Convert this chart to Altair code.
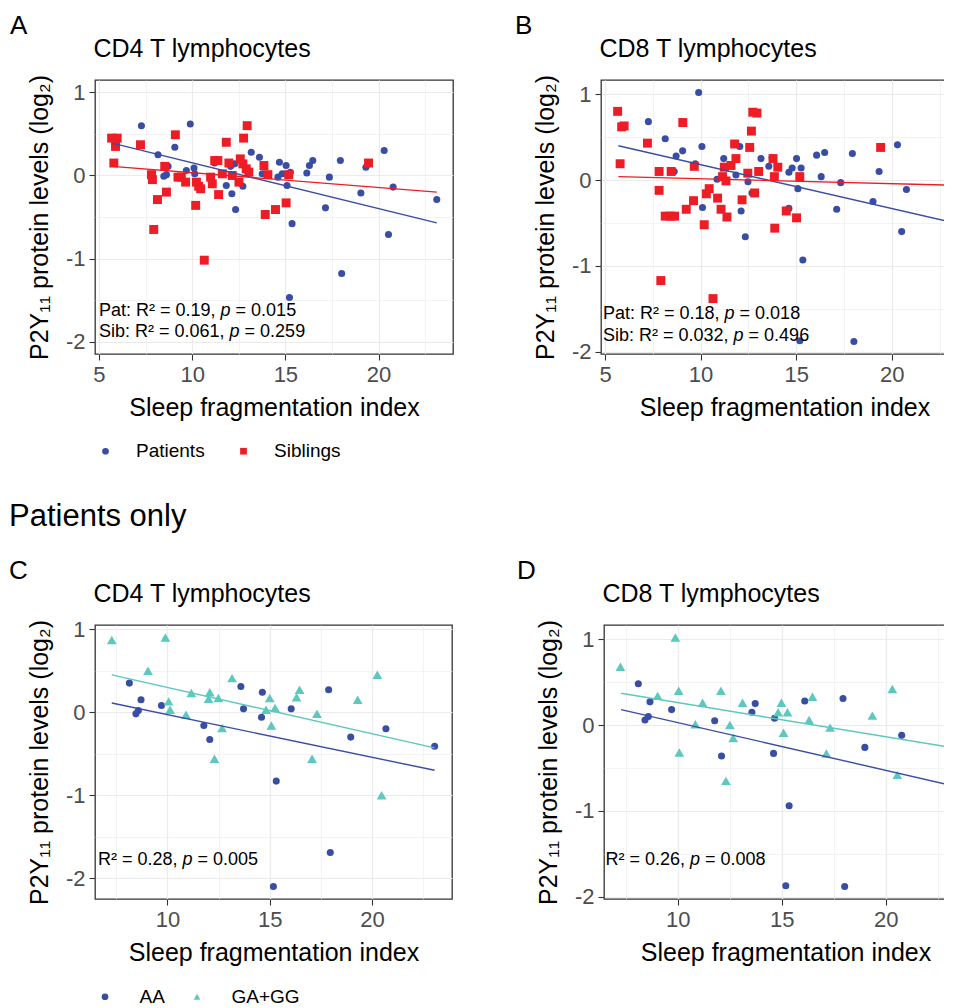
import altair as alt
import pandas as pd

FONT = "Liberation Sans"
BLUE = "#3A4DA5"
RED = "#EE1C24"
TEAL = "#5CC8BE"

# ---------------- Panel A: CD4, patients vs siblings ----------------
a_pat_x = [7.28, 9.90, 8.17, 9.07, 8.71, 8.48, 8.62, 9.69, 10.10, 10.14,
           11.21, 11.83, 12.13, 12.33, 12.06, 12.28, 12.72, 13.17, 13.61, 13.76,
           14.68, 14.60, 14.83, 15.04, 15.27, 15.09, 15.36, 15.22, 16.15, 16.29,
           16.47, 17.36, 17.15, 17.95, 18.02, 19.05, 19.32, 20.30, 20.53, 20.78, 23.12]
a_pat_y = [0.60, 0.62, 0.25, 0.34, 0.11, -0.01, 0.01, 0.06, 0.09, 0.02,
           0.15, -0.12, -0.22, -0.41, 0.11, 0.14, -0.13, 0.28, 0.22, 0.02,
           0.16, -0.02, 0.02, 0.12, 0.04, -0.12, -0.58, -1.47, 0.03, 0.12,
           0.18, -0.02, -0.39, 0.18, -1.18, -0.21, 0.10, 0.30, -0.71, -0.14, -0.29]
a_sib_x = [5.68, 5.98, 5.89, 5.80, 7.23, 9.10, 7.82, 7.87, 8.53, 8.62,
           8.14, 7.94, 9.24, 9.42, 9.65, 10.23, 10.35, 10.46, 10.19, 10.65,
           10.99, 11.08, 11.21, 11.38, 11.42, 11.62, 11.83, 11.97, 12.15, 12.51,
           12.58, 12.72, 12.76, 12.95, 12.90, 13.04, 13.85, 13.92, 14.06, 14.47,
           15.04, 15.18, 19.46]
a_sib_y = [0.45, 0.45, 0.35, 0.15, 0.37, 0.49, 0.01, -0.05, 0.11, -0.20,
           -0.29, -0.65, -0.02, -0.02, -0.08, -0.08, -0.13, -0.16, -0.36, -1.02,
           -0.02, -0.10, 0.18, 0.18, -0.23, 0.02, 0.40, 0.15, 0.00, -0.08,
           0.20, 0.14, 0.45, 0.60, 0.08, 0.04, 0.12, -0.47, 0.01, -0.41,
           -0.33, 0.01, 0.15]
a_fit_x = [5.71, 23.12]
a_fit_pat = [0.39, -0.57]
a_fit_sib = [0.11, -0.20]

# ---------------- Panel B: CD8, patients vs siblings ----------------
b_pat_x = [7.27, 9.90, 8.15, 9.06, 8.72, 8.62, 9.72, 10.07, 10.10, 10.86,
           11.21, 11.85, 12.05, 12.12, 12.34, 12.48, 12.69, 13.16, 13.57, 13.74,
           14.62, 14.79, 14.62, 15.02, 15.26, 15.09, 15.35, 15.19, 16.07, 16.49,
           16.31, 17.33, 17.12, 17.94, 18.02, 19.02, 19.34, 20.30, 20.52, 20.77, 23.09]
b_pat_y = [0.68, 1.02, 0.48, 0.34, 0.28, 0.10, 0.19, 0.39, -0.32, 0.01,
           0.25, 0.06, 0.39, -0.36, -0.66, -0.02, -0.15, 0.25, 0.16, 0.26,
           0.09, 0.14, -0.33, 0.25, 0.14, -0.10, -0.93, -1.87, 0.29, 0.32,
           0.04, -0.03, -0.34, 0.31, -1.88, -0.25, 0.10, 0.41, -0.60, -0.11, -0.35]
b_sib_x = [5.66, 5.87, 6.00, 5.79, 7.22, 9.07, 7.83, 7.83, 7.92, 8.46,
           8.15, 8.41, 8.64, 9.25, 9.63, 9.67, 10.19, 10.30, 10.45, 10.65,
           10.89, 11.07, 11.38, 11.15, 11.33, 11.24, 11.59, 11.85, 11.78, 12.17,
           12.47, 12.57, 12.66, 12.73, 12.95, 13.04, 12.83, 13.79, 13.86, 14.04,
           13.88, 14.48, 15.02, 15.19, 19.42]
b_sib_y = [0.80, 0.62, 0.63, 0.19, 0.43, 0.67, 0.10, -0.12, -1.17, 0.10,
           -0.42, -0.42, -0.42, -0.34, -0.24, 0.16, -0.52, -0.16, -0.10, -1.38,
           -0.21, -0.34, -0.43, 0.04, -0.01, 0.15, 0.17, 0.25, 0.42, -0.23,
           0.08, 0.38, 0.57, 0.79, 0.78, 0.10, -0.15, 0.25, 0.04, 0.15,
           -0.56, -0.36, -0.44, 0.04, 0.38]
b_fit_x = [5.70, 23.09]
b_fit_pat = [0.40, -0.49]
b_fit_sib = [0.04, -0.06]

# ---------------- Panel C: CD4, patients by genotype ----------------
c_aa_x = [8.14, 8.71, 8.46, 8.58, 9.71, 11.78, 12.07, 13.59, 13.72, 14.64,
          14.60, 15.32, 15.18, 16.05, 17.88, 17.96, 18.96, 20.68, 23.06]
c_aa_y = [0.35, 0.15, -0.02, 0.02, 0.08, -0.16, -0.33, 0.31, 0.04, 0.24,
          -0.06, -0.83, -2.10, 0.04, 0.27, -1.69, -0.30, -0.20, -0.41]
c_gg_x = [7.28, 9.90, 9.05, 10.06, 10.13, 10.91, 11.17, 12.07, 12.01, 12.49,
          12.67, 12.30, 13.16, 15.00, 14.82, 15.26, 15.08, 16.31, 16.46, 17.07,
          17.31, 19.30, 20.26, 20.47]
c_gg_y = [0.87, 0.90, 0.50, 0.13, 0.03, -0.03, 0.23, 0.24, 0.16, 0.17,
          -0.19, -0.56, 0.41, 0.17, 0.03, 0.05, -0.16, 0.18, 0.27, -0.56,
          -0.02, 0.15, 0.45, -1.00]
c_fit_x = [7.28, 23.06]
c_fit_aa = [0.11, -0.70]
c_fit_gg = [0.45, -0.43]

# ---------------- Panel D: CD8, patients by genotype ----------------
d_aa_x = [8.11, 8.67, 8.43, 8.59, 9.71, 11.78, 12.11, 13.57, 13.73, 14.66,
          14.61, 15.36, 15.20, 16.11, 17.95, 18.03, 19.00, 20.77, 23.12]
d_aa_y = [0.48, 0.27, 0.06, 0.10, 0.18, 0.05, -0.36, 0.15, 0.25, 0.08,
          -0.33, -0.94, -1.87, 0.28, 0.31, -1.88, -0.26, -0.12, -0.35]
d_gg_x = [7.25, 9.89, 9.04, 10.05, 10.08, 10.85, 11.20, 12.08, 12.51, 12.67,
          12.32, 13.12, 14.83, 14.99, 15.28, 15.09, 16.32, 16.48, 17.33, 17.15,
          19.36, 20.32, 20.56]
d_gg_y = [0.68, 1.02, 0.34, 0.40, -0.32, 0.01, 0.26, 0.40, 0.00, -0.15,
          -0.65, 0.26, 0.15, 0.26, 0.15, -0.09, 0.06, 0.33, -0.03, -0.33,
          0.11, 0.42, -0.58]
d_fit_x = [7.28, 23.12]
d_fit_aa = [0.18, -0.70]
d_fit_gg = [0.37, -0.26]

# tick positions (major every 5 / 1, minor halfway)
x_ticks_ab = [5, 7.5, 10, 12.5, 15, 17.5, 20, 22.5]
x_ticks_cd = [7.5, 10, 12.5, 15, 17.5, 20, 22.5]
y_ticks = [-2, -1.5, -1, -0.5, 0, 0.5, 1]

Y_TITLE = "P2Y₁₁ protein levels (log₂)"
X_TITLE = "Sleep fragmentation index"

# Arial / Liberation Sans advance widths (per 1000 em) for annotation layout
CW = {"P": 667, "a": 556, "t": 278, ":": 278, " ": 278, "R": 722, "²": 333,
      "=": 584, ".": 278, ",": 278, "S": 667, "i": 222, "b": 556, "p": 556}
for d in "0123456789":
    CW[d] = 556


def tw(s, size):
    return sum(CW.get(c, 556) for c in s) / 1000.0 * size


def x_axis(vals):
    return alt.Axis(
        values=vals, title=X_TITLE,
        labelExpr="datum.value % 5 === 0 ? '' + datum.value : ''",
        tickOpacity={"condition": {"test": "datum.value % 5 === 0", "value": 1}, "value": 0},
        gridWidth={"condition": {"test": "datum.value % 5 === 0", "value": 1.2}, "value": 0.6},
        labelFlush=False, labelPadding=4, titlePadding=10)


def y_axis():
    return alt.Axis(
        values=y_ticks, title=Y_TITLE,
        labelExpr="datum.value % 1 === 0 ? '' + datum.value : ''",
        tickOpacity={"condition": {"test": "datum.value % 1 === 0", "value": 1}, "value": 0},
        gridWidth={"condition": {"test": "datum.value % 1 === 0", "value": 1.2}, "value": 0.6},
        labelFlush=False, labelPadding=4, titlePadding=13)


def txt(s, x, y, size, **kw):
    return alt.Chart(pd.DataFrame({"t": [s]})).mark_text(
        align="left", baseline="alphabetic", font=FONT, fontSize=size,
        color="black", **kw).encode(text="t:N", x=alt.value(x), y=alt.value(y))


def annot(prefix, suffix, x, y, size=18):
    # prefix ends with ", " ; suffix is "= value" (drawn after an explicit space)
    w1 = tw(prefix, size)
    w2 = tw("p ", size)
    return [txt(prefix.rstrip(), x, y, size),
            txt("p", x + w1, y, size, fontStyle="italic"),
            txt(suffix, x + w1 + w2, y, size)]


def panel(groups, fits, fit_x, xdom, ydom, xvals, width, letter, letter_x,
          subtitle, annots, legend=None, extra=None):
    names = [g[0] for g in groups]
    cscale = alt.Scale(domain=names, range=[g[3] for g in groups])
    sscale = alt.Scale(domain=names, range=[g[4] for g in groups])
    X = alt.X("x:Q", scale=alt.Scale(domain=xdom, nice=False, zero=False), axis=x_axis(xvals))
    Y = alt.Y("y:Q", scale=alt.Scale(domain=ydom, nice=False, zero=False), axis=y_axis())
    if legend is not None:
        leg = alt.Legend(orient="none", legendX=legend[0], legendY=legend[1],
                         direction="horizontal", title=None, labelFont=FONT,
                         labelFontSize=19, labelColor="black", symbolSize=45,
                         labelOffset=legend[2], columnPadding=legend[3], padding=0,
                         symbolStrokeWidth=0, symbolOpacity=1)
    else:
        leg = None
    layers = []
    for name, xs, ys, col, shp, sz in groups:
        df = pd.DataFrame({"x": xs, "y": ys, "grp": name})
        layers.append(alt.Chart(df).mark_point(filled=True, opacity=1, size=sz, strokeWidth=0).encode(
            x=X, y=Y,
            color=alt.Color("grp:N", scale=cscale, legend=leg),
            shape=alt.Shape("grp:N", scale=sscale, legend=leg)))
    for ys, col in fits:
        df = pd.DataFrame({"x": fit_x, "y": ys})
        layers.append(alt.Chart(df).mark_line(color=col, strokeWidth=1.4).encode(x=X, y=Y))
    layers.append(txt(letter, letter_x, -46, 26))
    layers.append(txt(subtitle, -1.5, -23.3, 25))
    for pre, suf, ax, ay in annots:
        layers.extend(annot(pre, suf, ax, ay))
    if extra is not None:
        layers.append(txt(extra[0], extra[1], extra[2], extra[3]))
    return alt.layer(*layers).properties(width=width, height=274)


A = panel(
    [("Patients", a_pat_x, a_pat_y, BLUE, "circle", 50),
     ("Siblings", a_sib_x, a_sib_y, RED, "square", 80)],
    [(a_fit_pat, BLUE), (a_fit_sib, RED)], a_fit_x,
    [4.79, 23.99], [-2.15, 1.15], x_ticks_ab, 358, "A", -85, "CD4 T lymphocytes",
    [("Pat: R² = 0.19, ", "= 0.015", 4, 236), ("Sib: R² = 0.061, ", "= 0.259", 4, 257)],
    legend=(1, 361.5, 21, 29), extra=("Patients only", -86, 446, 31))

B = panel(
    [("Patients", b_pat_x, b_pat_y, BLUE, "circle", 50),
     ("Siblings", b_sib_x, b_sib_y, RED, "square", 80)],
    [(b_fit_pat, BLUE), (b_fit_sib, RED)], b_fit_x,
    [4.79, 23.99], [-2.025, 1.165], x_ticks_ab, 367, "B", -86, "CD8 T lymphocytes",
    [("Pat: R² = 0.18, ", "= 0.018", 2, 239), ("Sib: R² = 0.032, ", "= 0.496", 2, 260.5)])

C = panel(
    [("AA", c_aa_x, c_aa_y, BLUE, "circle", 50),
     ("GA+GG", c_gg_x, c_gg_y, TEAL, "triangle-up", 95)],
    [(c_fit_aa, BLUE), (c_fit_gg, TEAL)], c_fit_x,
    [6.46, 23.91], [-2.25, 1.05], x_ticks_cd, 357, "C", -86, "CD4 T lymphocytes",
    [("R² = 0.28, ", "= 0.005", 3, 239.7)],
    legend=(0.5, 362, 25, 22))

D = panel(
    [("AA", d_aa_x, d_aa_y, BLUE, "circle", 50),
     ("GA+GG", d_gg_x, d_gg_y, TEAL, "triangle-up", 95)],
    [(d_fit_aa, BLUE), (d_fit_gg, TEAL)], d_fit_x,
    [6.46, 23.91], [-2.025, 1.165], x_ticks_cd, 363, "D", -87, "CD8 T lymphocytes",
    [("R² = 0.26, ", "= 0.008", 1.5, 239.7)])


def indep(ch):
    return ch.resolve_scale(color="independent", shape="independent",
                            x="independent", y="independent").resolve_legend(
        color="independent", shape="independent")


row1 = indep(alt.hconcat(A, B, spacing=60))
row2 = indep(alt.hconcat(C, D, spacing=63))

# the right-hand panels run past the page edge in the original: crop them
chart = indep(alt.vconcat(row1, row2, spacing=24)).properties(
    padding={"left": 0, "top": 4, "right": -25, "bottom": 0}
).configure_view(
    stroke="#333333", strokeWidth=1.3
).configure_axis(
    labelFont=FONT, labelFontSize=22, labelColor="#4D4D4D",
    tickColor="#333333", tickSize=6, tickWidth=1.1, domain=False,
    gridColor="#EBEBEB", titleFont=FONT, titleFontSize=25,
    titleFontWeight="normal", titleColor="black"
)

chart.save("out.html", embed_options={"renderer": "svg", "actions": False})
